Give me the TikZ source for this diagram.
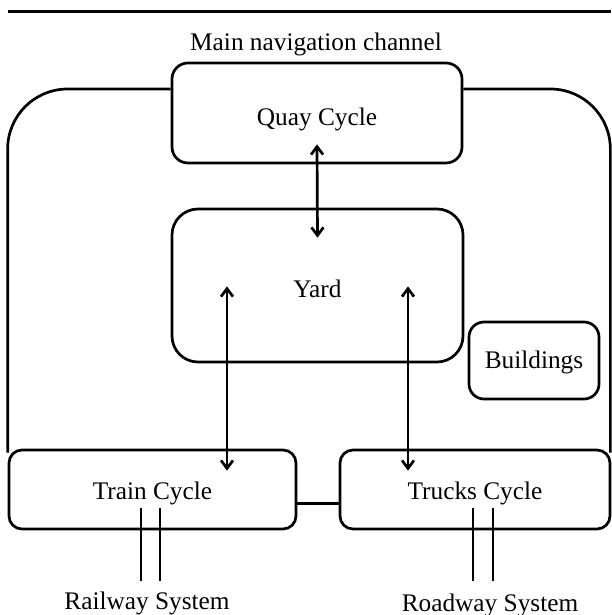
\documentclass[tikz,border=0pt]{standalone}
\usepackage{fontspec}
\setmainfont{Liberation Serif}
\usetikzlibrary{arrows.meta}
\begin{document}
\begin{tikzpicture}[x=1pt,y=1pt,
  box/.style={draw,line width=2.7pt,inner sep=0pt},
  lbl/.style={inner sep=0pt},
  conn/.style={line width=2.7pt,{Straight Barb[length=8pt,width=12pt]}-{Straight Barb[length=8pt,width=12pt]}},
  rail/.style={line width=2pt},
  every node/.style={font=\fontsize{25.3}{30}\selectfont}]
\useasboundingbox (0,0) rectangle (611,615);
% top line
\draw[line width=3pt] (8,603) -- (611,603);
\node[lbl] (main) at (316,571) {Main navigation channel};
% boxes
\node[box,rounded corners=16pt,minimum width=290pt,minimum height=100pt] (quay) at (317,502) {};
\node[box,rounded corners=26pt,minimum width=291pt,minimum height=153pt] (yard) at (317.5,329.5) {};
\node[box,rounded corners=15pt,minimum width=130pt,minimum height=77pt] (buildings) at (534,254.5) {};
\node[box,rounded corners=13pt,minimum width=287pt,minimum height=79pt] (train) at (152.5,125.5) {};
\node[box,rounded corners=13pt,minimum width=270pt,minimum height=79pt] (trucks) at (475,125.5) {};
% box texts
\node[lbl] (quaylbl) at ([yshift=-6pt]quay.center) {Quay Cycle};
\node[lbl] (yardlbl) at ([yshift=-3pt]yard.center) {Yard};
\node[lbl] (buildingslbl) at ([yshift=-2pt]buildings.center) {Buildings};
\node[lbl] (trainlbl) at ([yshift=-4pt]train.center) {Train Cycle};
\node[lbl] (truckslbl) at ([yshift=-4pt]trucks.center) {Trucks Cycle};
\node[lbl] (railway) at (147,12) {Railway System};
\node[lbl] (roadway) at (490,10) {Roadway System};
% outer loop
\draw[line width=2.7pt,rounded corners=60pt] ([yshift=-4pt]train.north west) |- ([yshift=24pt]quay.west);
\draw[line width=2.7pt,rounded corners=60pt] ([yshift=24pt]quay.east) -| ([xshift=-1pt,yshift=-4pt]trucks.north east);
% link between train and trucks
\draw[line width=2.7pt] ([yshift=-14pt]train.east) -- ([yshift=-14pt]trucks.west);
% arrows
\draw[conn] ([yshift=20pt]quay.south) -- ([yshift=-30pt]yard.north);
\draw[conn] ([xshift=-90.5pt,yshift=77pt]yard.south) -- ([xshift=74.5pt,yshift=-22pt]train.north);
\draw[conn] ([xshift=90.5pt,yshift=77pt]yard.south) -- ([xshift=-67pt,yshift=-22pt]trucks.north);
% rails
\draw[rail] ([xshift=-11.5pt,yshift=22pt]train.south) -- ([xshift=-11.5pt,yshift=-51pt]train.south);
\draw[rail] ([xshift=7.5pt,yshift=22pt]train.south) -- ([xshift=7.5pt,yshift=-51pt]train.south);
\draw[rail] ([xshift=-2pt,yshift=22pt]trucks.south) -- ([xshift=-2pt,yshift=-51pt]trucks.south);
\draw[rail] ([xshift=18pt,yshift=22pt]trucks.south) -- ([xshift=18pt,yshift=-51pt]trucks.south);
\end{tikzpicture}
\end{document}
